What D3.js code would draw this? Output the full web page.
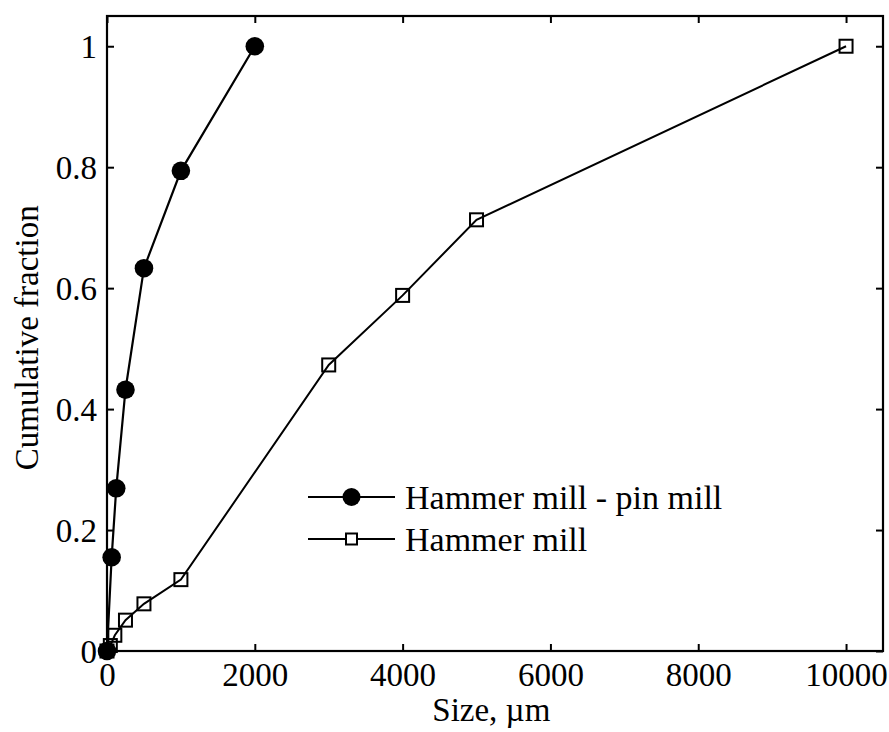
<!DOCTYPE html>
<html>
<head>
<meta charset="utf-8">
<script src="https://cdn.jsdelivr.net/npm/d3@7"></script>
<style>
  html, body { margin: 0; padding: 0; background: #fff; }
  svg { display: block; }
</style>
</head>
<body>
<svg id="chart" width="889" height="732"></svg>
<script>
// Particle size (µm) and cumulative fraction for each milling route
const pinMillSize = [0, 63, 125, 250, 500, 1000, 2000];
const pinMillFraction = [0, 0.155, 0.269, 0.432, 0.633, 0.794, 1.0];

const hammerSize = [0, 45, 106, 250, 500, 1000, 3000, 4000, 5000, 10000];
const hammerFraction = [0, 0.009, 0.026, 0.051, 0.078, 0.118, 0.473, 0.588, 0.713, 1.0];

const seriesNames = ["Hammer mill - pin mill", "Hammer mill"];

const xTicks = [0, 2000, 4000, 6000, 8000, 10000];
const yTicks = [0, 0.2, 0.4, 0.6, 0.8, 1];
const yTickLabels = ["0", "0.2", "0.4", "0.6", "0.8", "1"];

const FONT = '"Liberation Serif"';

const svg = d3.select("#chart");
const margin = { left: 107, right: 6, top: 16, bottom: 81 };
const W = 889, H = 732;
const innerW = W - margin.left - margin.right;
const innerH = H - margin.top - margin.bottom;

const x = d3.scaleLinear().domain([0, 10500]).range([margin.left, margin.left + innerW]);
const y = d3.scaleLinear().domain([0, 1.05]).range([margin.top + innerH, margin.top]);

const ink = "#000";
const fontSize = 33;

// Frame
svg.append("rect")
  .attr("x", margin.left).attr("y", margin.top)
  .attr("width", innerW).attr("height", innerH)
  .attr("fill", "none").attr("stroke", ink).attr("stroke-width", 2.2);

// Axes with inward ticks on every side
const tickLen = 7;
const axisBottomG = svg.append("g").attr("transform", `translate(0,${margin.top + innerH})`)
  .call(d3.axisBottom(x).tickValues(xTicks).tickSize(-tickLen).tickPadding(tickLen + 5).tickFormat(d3.format("d")));
const axisTopG = svg.append("g").attr("transform", `translate(0,${margin.top})`)
  .call(d3.axisTop(x).tickValues(xTicks).tickSize(-tickLen).tickFormat(""));
const axisLeftG = svg.append("g").attr("transform", `translate(${margin.left},0)`)
  .call(d3.axisLeft(y).tickValues(yTicks).tickSize(-tickLen).tickPadding(tickLen + 3)
    .tickFormat((d, i) => yTickLabels[i]));
const axisRightG = svg.append("g").attr("transform", `translate(${margin.left + innerW},0)`)
  .call(d3.axisRight(y).tickValues(yTicks).tickSize(-tickLen).tickFormat(""));

[axisBottomG, axisTopG, axisLeftG, axisRightG].forEach(g => {
  g.attr("font-family", null).attr("font-size", null);
  g.select(".domain").remove();
  g.selectAll(".tick line").attr("stroke", ink).attr("stroke-width", 2);
  g.selectAll(".tick text")
    .style("font-family", FONT)
    .attr("font-size", fontSize).attr("fill", ink);
});
axisLeftG.selectAll(".tick text").attr("dy", "0.34em");

// Axis titles
svg.append("text")
  .attr("x", x(5200)).attr("y", 721)
  .attr("text-anchor", "middle").attr("font-size", fontSize)
  .attr("fill", ink).style("font-family", FONT)
  .text("Size, µm");
svg.append("text")
  .attr("transform", `translate(38,${y(0.518)}) rotate(-90)`)
  .attr("text-anchor", "middle").attr("font-size", fontSize)
  .attr("fill", ink).style("font-family", FONT)
  .text("Cumulative fraction");

const line = d3.line().x(d => x(d[0])).y(d => y(d[1]));
const pinPts = pinMillSize.map((s, i) => [s, pinMillFraction[i]]);
const hamPts = hammerSize.map((s, i) => [s, hammerFraction[i]]);

const plot = svg.append("g");

// Hammer mill: open squares
plot.append("path").datum(hamPts).attr("d", line)
  .attr("fill", "none").attr("stroke", ink).attr("stroke-width", 2);
const sq = 13;
plot.selectAll(".sq").data(hamPts).enter().append("rect")
  .attr("x", d => x(d[0]) - sq / 2).attr("y", d => y(d[1]) - sq / 2)
  .attr("width", sq).attr("height", sq)
  .attr("fill", "none").attr("stroke", ink).attr("stroke-width", 2);

// Hammer mill followed by pin mill: filled circles
plot.append("path").datum(pinPts).attr("d", line)
  .attr("fill", "none").attr("stroke", ink).attr("stroke-width", 2.2);
plot.selectAll(".dot").data(pinPts).enter().append("circle")
  .attr("cx", d => x(d[0])).attr("cy", d => y(d[1])).attr("r", 9.3)
  .attr("fill", ink);

// Legend
const legend = svg.append("g");
const lx0 = 308, lx1 = 395, lxm = (lx0 + lx1) / 2;
const rows = [497, 539];
seriesNames.forEach((name, i) => {
  const ly = rows[i];
  legend.append("line").attr("x1", lx0).attr("x2", lx1).attr("y1", ly).attr("y2", ly)
    .attr("stroke", ink).attr("stroke-width", 2);
  if (i === 0) {
    legend.append("circle").attr("cx", lxm).attr("cy", ly).attr("r", 9).attr("fill", ink);
  } else {
    legend.append("rect").attr("x", lxm - 5.5).attr("y", ly - 5.5).attr("width", 11).attr("height", 11)
      .attr("fill", "#fff").attr("stroke", ink).attr("stroke-width", 2);
  }
  legend.append("text").attr("x", 405).attr("y", ly).attr("dy", "0.34em")
    .attr("font-size", 34).attr("fill", ink).style("font-family", FONT).text(name);
});
</script>
</body>
</html>
